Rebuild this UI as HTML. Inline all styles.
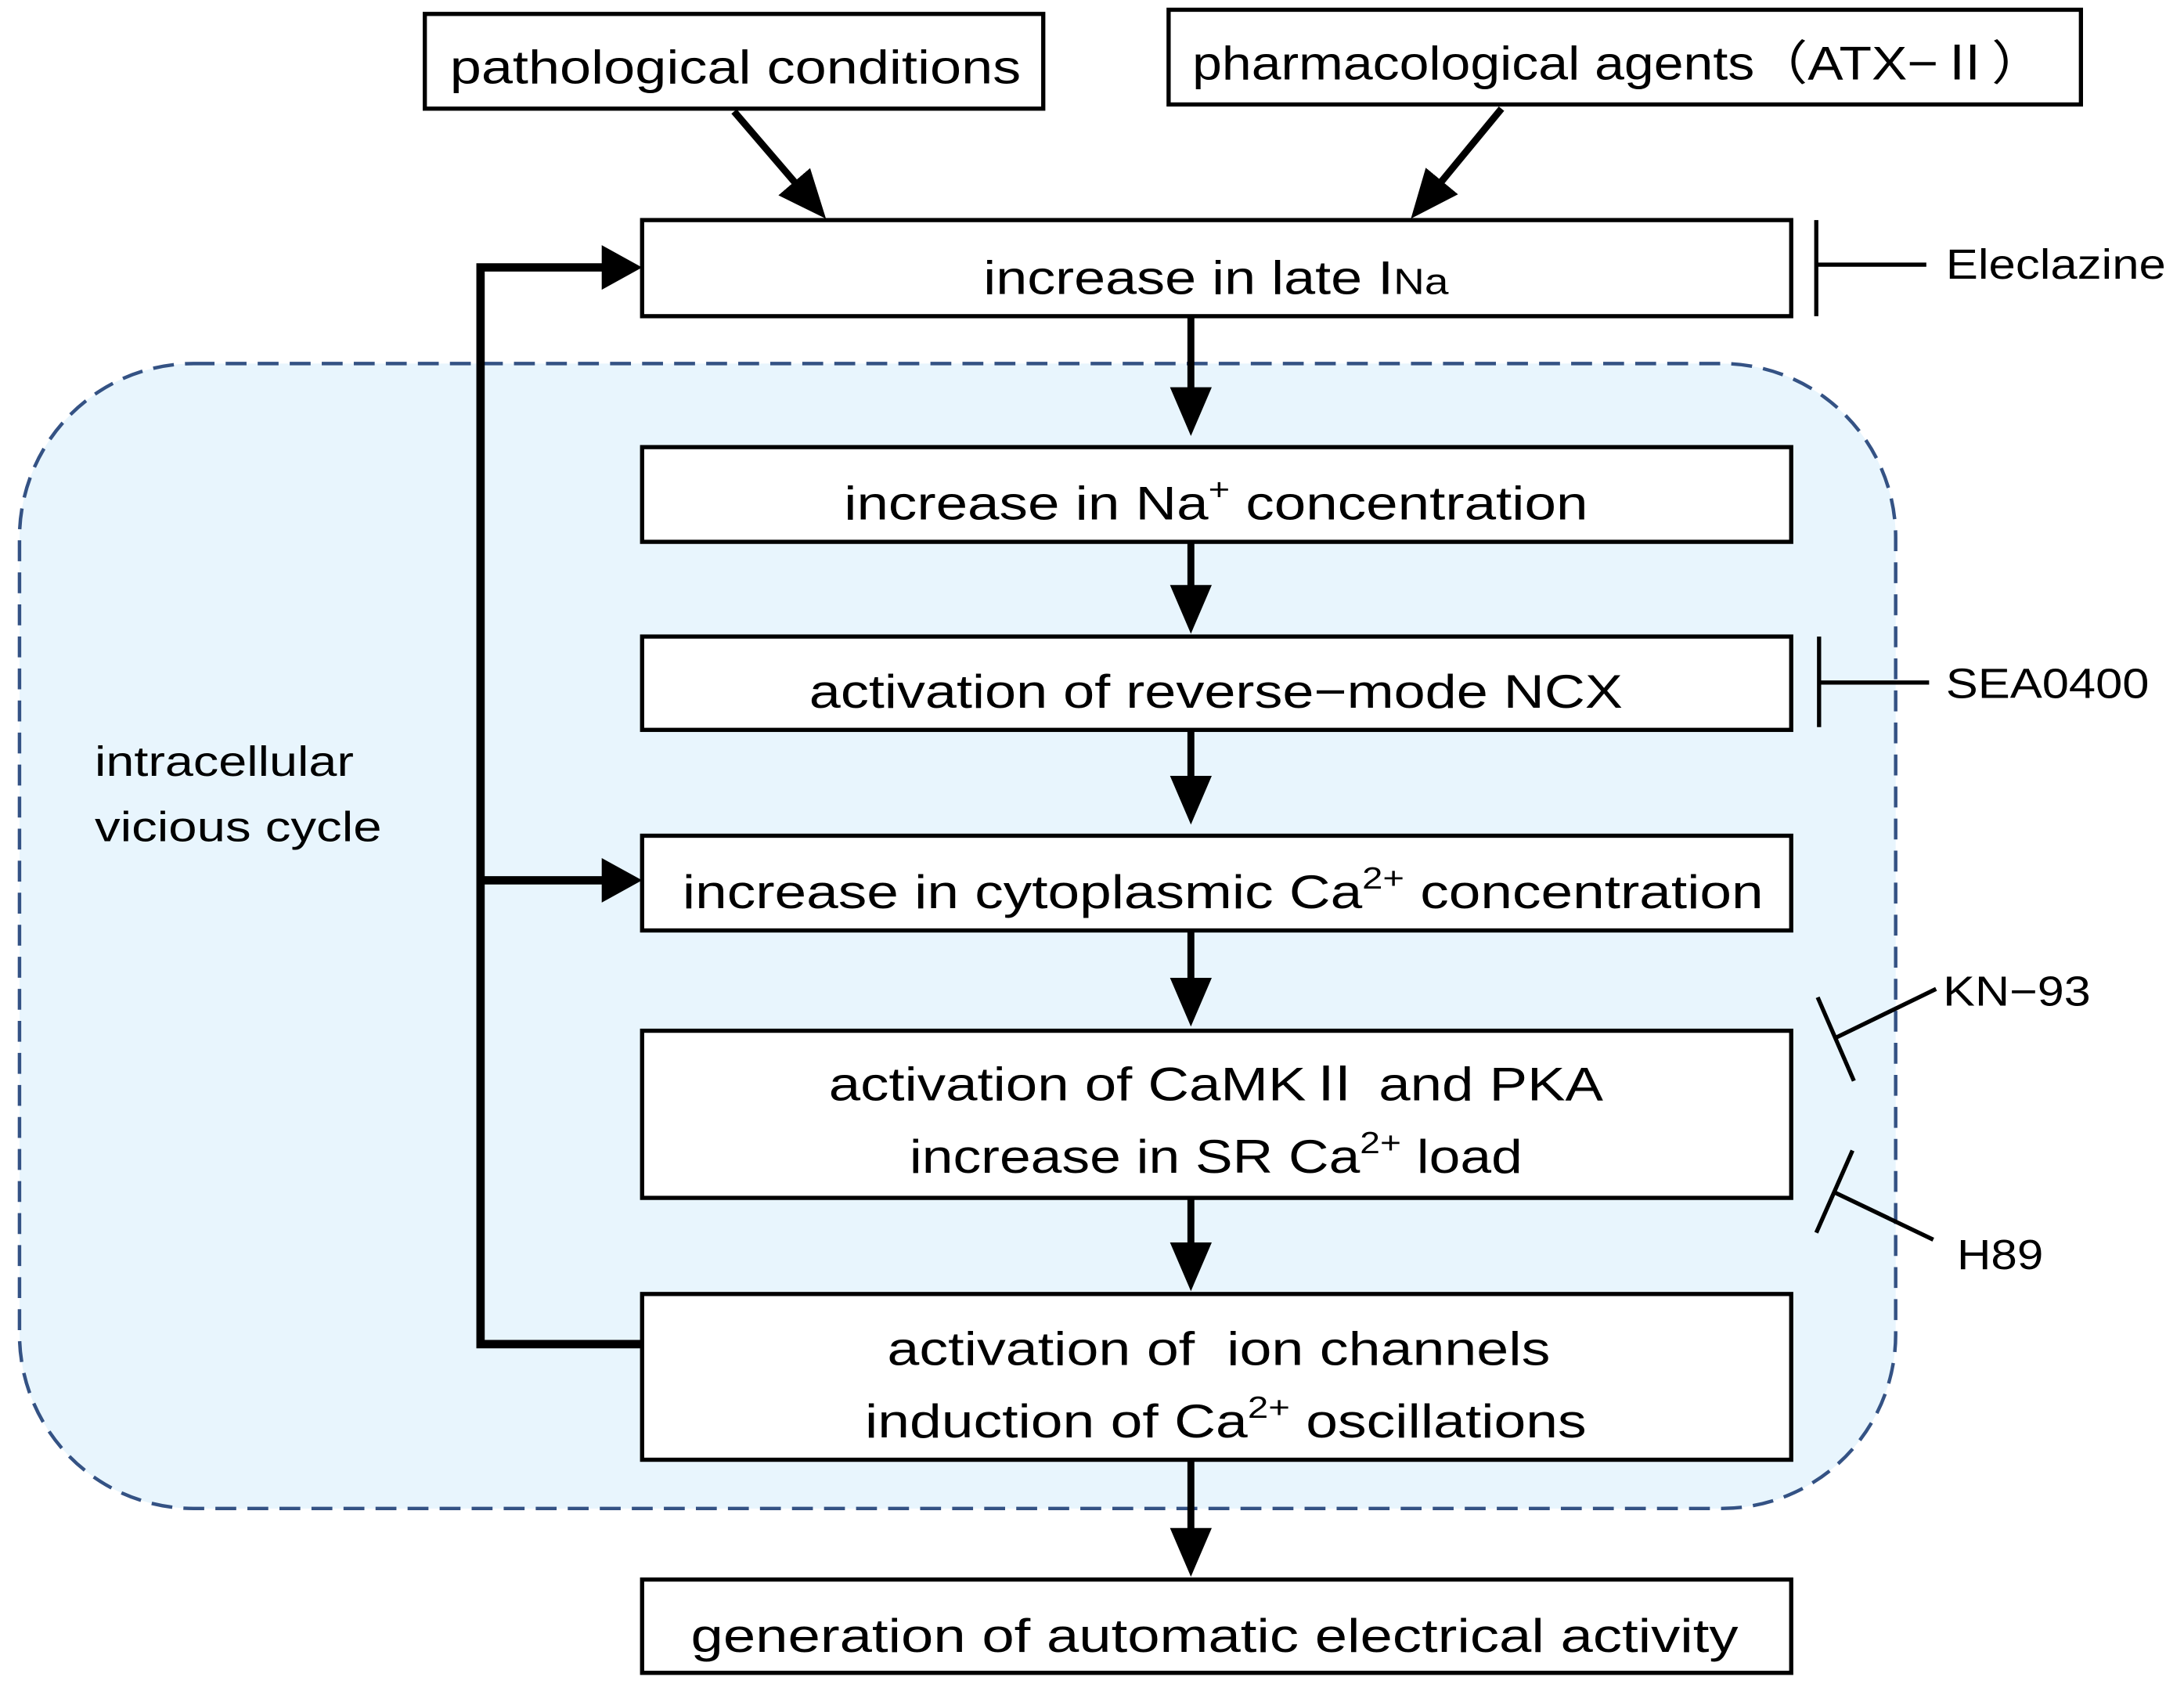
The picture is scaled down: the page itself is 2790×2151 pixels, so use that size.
<!DOCTYPE html>
<html><head><meta charset="utf-8"><style>
html,body{margin:0;padding:0;background:#fff;}
svg{display:block;}
text{font-family:"Liberation Sans","Noto Sans CJK JP",sans-serif;fill:#000;}
</style></head><body>
<svg width="2790" height="2151" viewBox="0 0 1568 1209" preserveAspectRatio="none" xmlns="http://www.w3.org/2000/svg">
<defs>
<marker id="ah" markerWidth="7" markerHeight="6" refX="4.6" refY="3" orient="auto" markerUnits="strokeWidth">
<path d="M0,0 L7,3 L0,6 z" fill="#000"/></marker>
</defs>
<rect x="0" y="0" width="1568" height="1209" fill="#fff"/>
<rect x="14" y="261" width="1347" height="822" rx="125" ry="125" fill="#e8f5fd" stroke="#345284" stroke-width="2.5" stroke-dasharray="15,8"/>

<g fill="#fff" stroke="#000" stroke-width="3">
<rect x="305" y="10" width="444" height="68"/>
<rect x="839" y="7" width="655" height="68"/>
<rect x="461" y="158" width="825" height="69"/>
<rect x="461" y="321" width="825" height="68"/>
<rect x="461" y="457" width="825" height="67"/>
<rect x="461" y="600" width="825" height="68"/>
<rect x="461" y="740" width="825" height="120"/>
<rect x="461" y="929" width="825" height="119"/>
<rect x="461" y="1134" width="825" height="67"/>
</g>

<g stroke="#000" stroke-width="5" fill="none">
<line x1="855" y1="227" x2="855" y2="301" marker-end="url(#ah)"/>
<line x1="855" y1="389" x2="855" y2="443" marker-end="url(#ah)"/>
<line x1="855" y1="524" x2="855" y2="580" marker-end="url(#ah)"/>
<line x1="855" y1="668" x2="855" y2="725" marker-end="url(#ah)"/>
<line x1="855" y1="860" x2="855" y2="915" marker-end="url(#ah)"/>
<line x1="855" y1="1048" x2="855" y2="1120" marker-end="url(#ah)"/>
<line x1="527" y1="80" x2="585.2" y2="147.9" marker-end="url(#ah)"/>
<line x1="1078" y1="78" x2="1020.6" y2="147.7" marker-end="url(#ah)"/>
</g>
<g stroke="#000" stroke-width="6" fill="none">
<polyline points="461,965 345,965 345,192 436,192"/>
<line x1="345" y1="632" x2="436" y2="632"/>
</g>
<g fill="#000">
<path d="M432,176 L461,192 L432,208 z"/>
<path d="M432,616 L461,632 L432,648 z"/>
</g>

<g stroke="#000" stroke-width="3" fill="none">
<line x1="1304" y1="158" x2="1304" y2="227"/>
<line x1="1304" y1="190" x2="1383" y2="190"/>
<line x1="1306" y1="457" x2="1306" y2="522"/>
<line x1="1306" y1="490" x2="1385" y2="490"/>
<line x1="1305" y1="716" x2="1331" y2="776"/>
<line x1="1318" y1="745" x2="1390" y2="710"/>
<line x1="1304" y1="885" x2="1330" y2="826"/>
<line x1="1317" y1="856" x2="1388" y2="890"/>
</g>

<g font-size="34" text-anchor="middle">
<text x="528" y="60" textLength="410" lengthAdjust="spacingAndGlyphs">pathological conditions</text>
<text x="1162" y="57" textLength="612" lengthAdjust="spacingAndGlyphs">pharmacological agents（ATX−Ⅱ）</text>
<text x="873" y="211" textLength="334" lengthAdjust="spacingAndGlyphs">increase in late I<tspan font-size="26">Na</tspan></text>
<text x="873" y="373" textLength="534" lengthAdjust="spacingAndGlyphs">increase in Na<tspan font-size="22" dy="-14">+</tspan><tspan dy="14"> concentration</tspan></text>
<text x="873" y="508" textLength="584" lengthAdjust="spacingAndGlyphs">activation of reverse−mode NCX</text>
<text x="878" y="652" textLength="776" lengthAdjust="spacingAndGlyphs">increase in cytoplasmic Ca<tspan font-size="22" dy="-14">2+</tspan><tspan dy="14"> concentration</tspan></text>
<text x="873" y="790" textLength="556" lengthAdjust="spacingAndGlyphs">activation of CaMKⅡ and PKA</text>
<text x="873" y="842" textLength="440" lengthAdjust="spacingAndGlyphs">increase in SR Ca<tspan font-size="22" dy="-14">2+</tspan><tspan dy="14"> load</tspan></text>
<text x="875" y="980" textLength="476" lengthAdjust="spacingAndGlyphs">activation of &#160;ion channels</text>
<text x="880" y="1032" textLength="518" lengthAdjust="spacingAndGlyphs">induction of Ca<tspan font-size="22" dy="-14">2+</tspan><tspan dy="14"> oscillations</tspan></text>
<text x="872" y="1186" textLength="752" lengthAdjust="spacingAndGlyphs">generation of automatic electrical activity</text>
</g>
<g font-size="30">
<text x="1397" y="200" textLength="158" lengthAdjust="spacingAndGlyphs">Eleclazine</text>
<text x="1397" y="501" textLength="146" lengthAdjust="spacingAndGlyphs">SEA0400</text>
<text x="1395" y="722" textLength="106" lengthAdjust="spacingAndGlyphs">KN−93</text>
<text x="1405" y="911" textLength="62" lengthAdjust="spacingAndGlyphs">H89</text>
<text x="68" y="557" textLength="186" lengthAdjust="spacingAndGlyphs">intracellular</text>
<text x="68" y="604" textLength="206" lengthAdjust="spacingAndGlyphs">vicious cycle</text>
</g>
</svg>
</body></html>
